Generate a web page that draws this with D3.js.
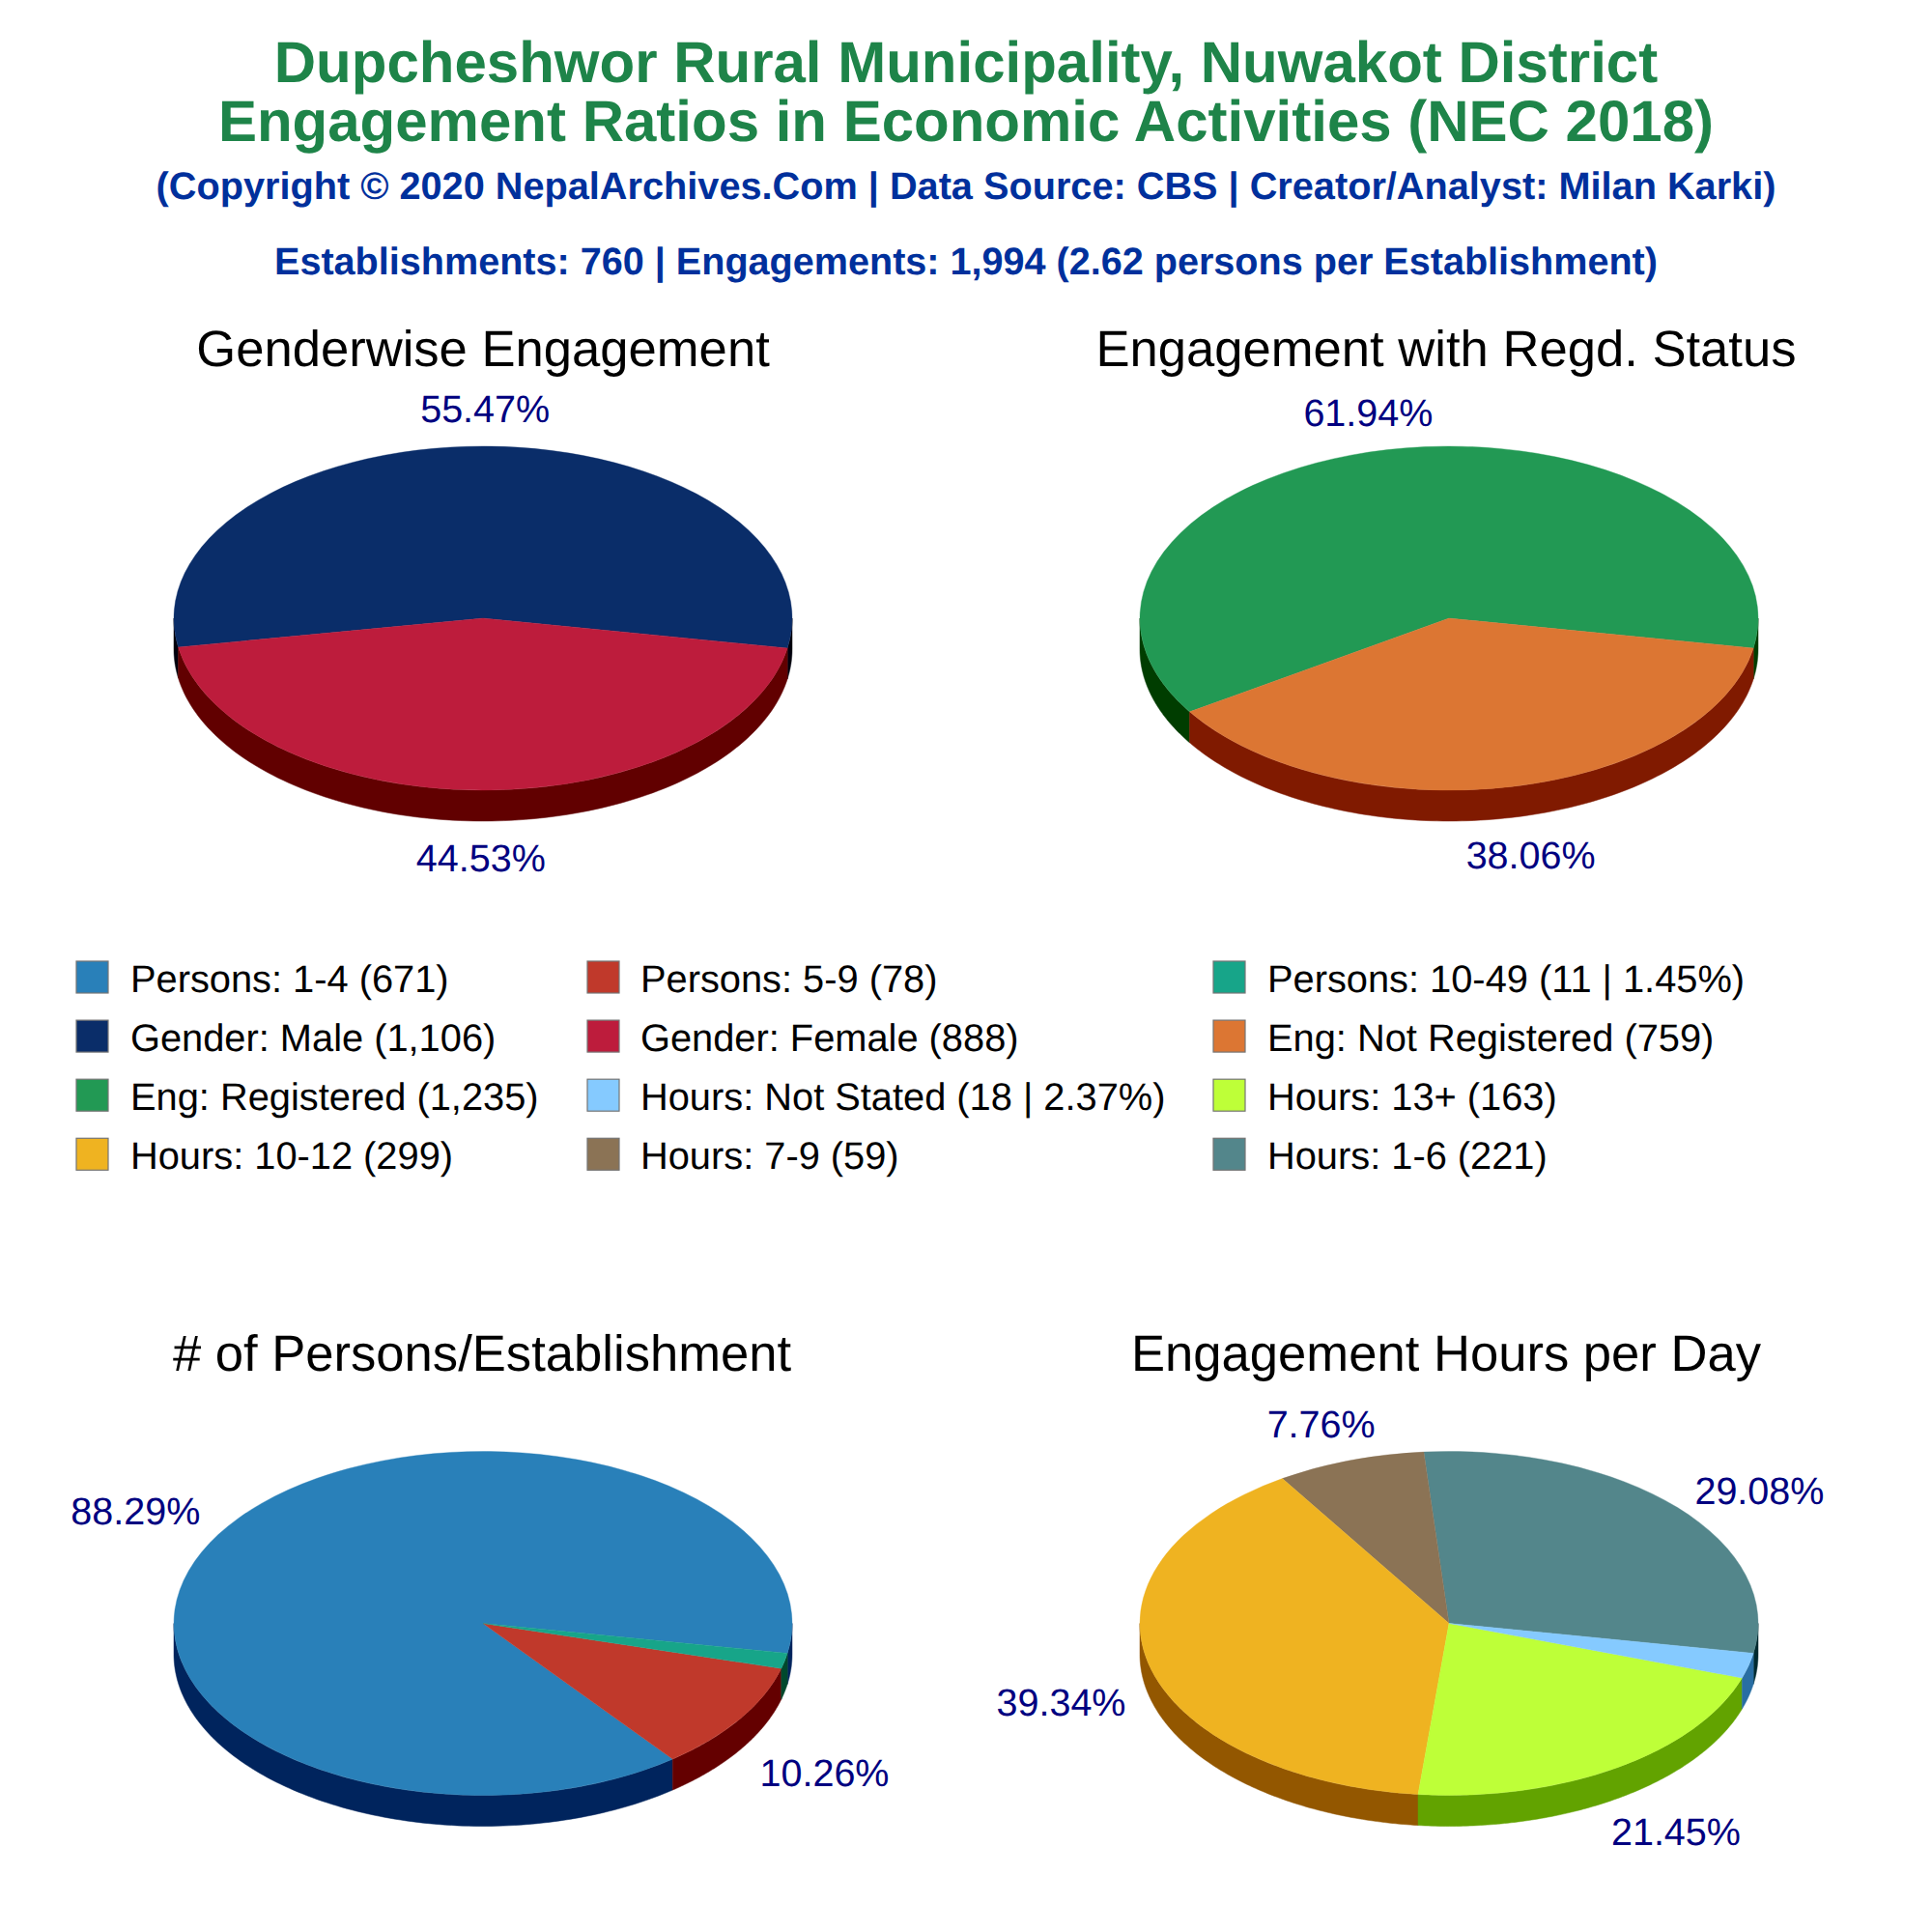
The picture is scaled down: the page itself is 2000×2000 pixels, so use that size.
<!DOCTYPE html>
<html>
<head>
<meta charset="utf-8">
<script src="https://cdn.jsdelivr.net/npm/d3@7"></script>
<style>
html,body{margin:0;padding:0;background:#fff}
svg{display:block}
text{font-family:"Liberation Sans",Arial,sans-serif;text-rendering:geometricPrecision}
</style>
</head>
<body>
<script>
const titleLines = ["Dupcheshwor Rural Municipality, Nuwakot District","Engagement Ratios in Economic Activities (NEC 2018)"];
const subtitle = "(Copyright © 2020 NepalArchives.Com | Data Source: CBS | Creator/Analyst: Milan Karki)";
const summary = "Establishments: 760 | Engagements: 1,994 (2.62 persons per Establishment)";

const genderValues = [1106, 888];
const genderColors = ["#0A2D69", "#BD1C3C"];
const regdValues = [1235, 759];
const regdColors = ["#229954", "#DC7633"];
const personValues = [671, 78, 11];
const personColors = ["#2980B9", "#C0392B", "#17A589"];
const hourValues = [221, 59, 299, 163, 18];
const hourColors = ["#53868B", "#8B7355", "#EFB321", "#BEFF38", "#85CAFF"];

const legendLabels = [
  "Persons: 1-4 (671)", "Persons: 5-9 (78)", "Persons: 10-49 (11 | 1.45%)",
  "Gender: Male (1,106)", "Gender: Female (888)", "Eng: Not Registered (759)",
  "Eng: Registered (1,235)", "Hours: Not Stated (18 | 2.37%)", "Hours: 13+ (163)",
  "Hours: 10-12 (299)", "Hours: 7-9 (59)", "Hours: 1-6 (221)"
];
const legendColors = [
  "#2980B9", "#C0392B", "#17A589",
  "#0A2D69", "#BD1C3C", "#DC7633",
  "#229954", "#85CAFF", "#BEFF38",
  "#EFB321", "#8B7355", "#53868B"
];

/* layout */
const RX = 320, RY = 178, DEPTH = 32, START_DEG = -10;
const LABEL_RX = 420, LABEL_RY = 218;
const panels = [
  {title:"Genderwise Engagement", values:genderValues, colors:genderColors, cx:500, cy:640, tx:500, ty:379, nudge:[[1,1],[-1,-2]]},
  {title:"Engagement with Regd. Status", values:regdValues, colors:regdColors, cx:1500, cy:640, tx:1497, ty:379, nudge:[[0,1],[1,-1]]},
  {title:"# of Persons/Establishment", values:personValues, colors:personColors, cx:500, cy:1680.5, tx:499, ty:1419, nudge:[[0,-4],[4,1.5],[0,0]]},
  {title:"Engagement Hours per Day", values:hourValues, colors:hourColors, cx:1500, cy:1680.5, tx:1497, ty:1419, nudge:[[11,9.5],[2,0],[7,-1],[7,0.5],[0,0]]}
];

const svg = d3.select("body").append("svg").attr("width",2000).attr("height",2000).attr("viewBox","0 0 2000 2000");
svg.append("rect").attr("width",2000).attr("height",2000).attr("fill","#fff");

/* headings */
svg.selectAll("text.title").data(titleLines).join("text").attr("class","title")
  .attr("x",1000).attr("y",(d,i)=>85+i*60.5).attr("text-anchor","middle")
  .attr("font-size",60).attr("font-weight","bold").attr("fill","#1E8449").text(d=>d);
svg.append("text").attr("x",1000).attr("y",206).attr("text-anchor","middle")
  .attr("font-size",39.7).attr("font-weight","bold").attr("fill","#00309C").text(subtitle);
svg.append("text").attr("x",1000).attr("y",284).attr("text-anchor","middle")
  .attr("font-size",39.6).attr("font-weight","bold").attr("fill","#00309C").text(summary);

const rad = d => d*Math.PI/180;
/* math angle (ccw from east) -> d3 angle (cw from north) */
const toD3 = m => Math.PI/2 - m;
const sideShade = c => { const q=d3.rgb(c); return d3.rgb(q.r-92,q.g-92,q.b-92).formatHex(); };
const pct = d3.format(".2f");

panels.forEach(p=>{
  const total = d3.sum(p.values);
  const a0 = toD3(rad(START_DEG));
  const pie = d3.pie().sort(null).startAngle(a0).endAngle(a0-2*Math.PI);
  const arcs = pie(p.values);
  const g = svg.append("g").attr("transform",`translate(${p.cx},${p.cy})`);

  /* sides: the part of every slice's rim on the near half of the ellipse */
  const rim = d3.line().x(d=>d[0]).y(d=>d[1]);
  arcs.forEach((a,i)=>{
    const mStart = Math.PI/2 - a.startAngle, mEnd = Math.PI/2 - a.endAngle;
    [[Math.PI,2*Math.PI],[-Math.PI,0],[3*Math.PI,4*Math.PI]].forEach(([lo,hi])=>{
      const s = Math.max(mStart,lo), e = Math.min(mEnd,hi);
      if (e<=s) return;
      const ts = d3.range(0,121).map(k=>s+(e-s)*k/120);
      const top = ts.map(t=>[RX*Math.cos(t),-RY*Math.sin(t)]);
      const bottom = ts.slice().reverse().map(t=>[RX*Math.cos(t),-RY*Math.sin(t)+DEPTH]);
      g.append("path").attr("d",rim(top.concat(bottom))+"Z").attr("fill",sideShade(p.colors[i]))
        .attr("stroke",sideShade(p.colors[i])).attr("stroke-width",0.5);
    });
  });

  /* top faces */
  const arcGen = d3.arc().innerRadius(0).outerRadius(RX);
  const face = g.append("g").attr("transform",`scale(1,${RY/RX})`);
  face.selectAll("path").data(arcs).join("path").attr("d",arcGen)
    .attr("fill",(d,i)=>p.colors[i]).attr("stroke",(d,i)=>p.colors[i]).attr("stroke-width",0.5);

  /* panel title */
  svg.append("text").attr("x",p.tx).attr("y",p.ty).attr("text-anchor","middle")
    .attr("font-size",52.6).attr("fill","#000").text(p.title);

  /* percent labels */
  arcs.forEach((a,i)=>{
    const share = a.value/total*100;
    if (share<5) return;
    const m = Math.PI/2 - (a.startAngle+a.endAngle)/2;
    const x = p.cx + LABEL_RX*Math.cos(m) + p.nudge[i][0];
    const y = p.cy - LABEL_RY*Math.sin(m) + (Math.sin(m)<0?DEPTH:0) + p.nudge[i][1];
    svg.append("text").attr("x",x).attr("y",y+14).attr("text-anchor","middle")
      .attr("font-size",39.5).attr("fill","#000080").text(pct(share)+"%");
  });
});

/* legend */
const colSwatch = [79,608,1256], colText = [135,663,1312];
const legend = svg.selectAll("g.lg").data(legendLabels).join("g").attr("class","lg")
  .attr("transform",(d,i)=>`translate(0,${995+61.1*Math.floor(i/3)})`);
legend.append("rect").attr("x",(d,i)=>colSwatch[i%3]).attr("y",0).attr("width",33).attr("height",33)
  .attr("fill",(d,i)=>legendColors[i]).attr("stroke","#757575").attr("stroke-width",1.2);
legend.append("text").attr("x",(d,i)=>colText[i%3]).attr("y",31.5).attr("font-size",39.8).attr("fill","#000").text(d=>d);
</script>
</body>
</html>
